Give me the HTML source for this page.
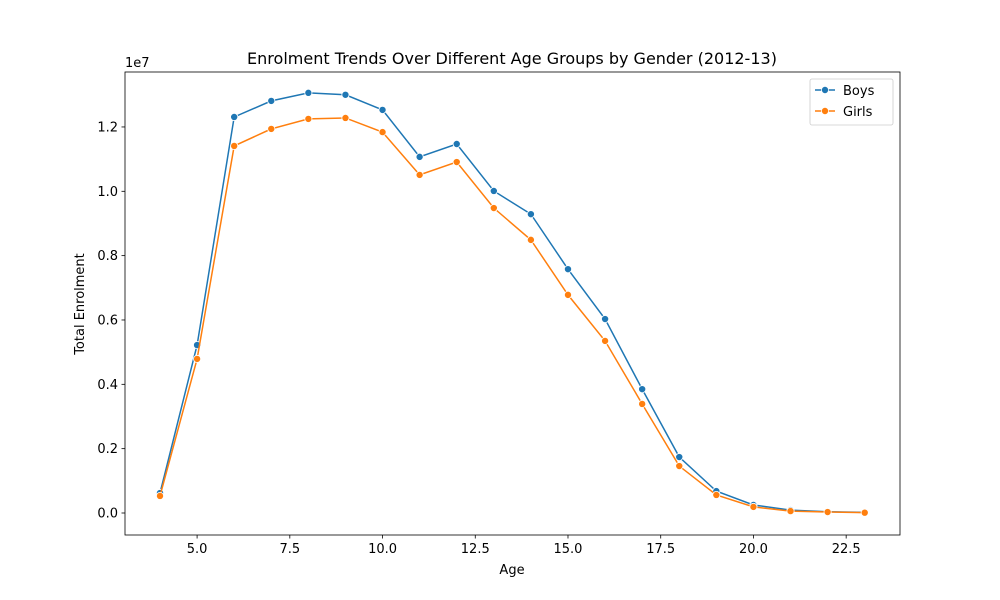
<!DOCTYPE html>
<html><head><meta charset="utf-8"><style>
body{margin:0;background:#fff;}
svg{display:block;font-family:"DejaVu Sans","Liberation Sans",sans-serif;}
</style></head><body>
<svg id="chart" width="1000" height="600"></svg>
<script>
const ages=[4,5,6,7,8,9,10,11,12,13,14,15,16,17,18,19,20,21,22,23];
const boys=[0.062,0.522,1.231,1.281,1.306,1.300,1.253,1.107,1.147,1.001,0.929,0.758,0.603,0.385,0.174,0.068,0.025,0.009,0.004,0.002];
const girls=[0.053,0.479,1.141,1.194,1.225,1.228,1.184,1.051,1.091,0.948,0.849,0.678,0.535,0.339,0.146,0.056,0.019,0.006,0.003,0.001];
const xTicks=[5.0,7.5,10.0,12.5,15.0,17.5,20.0,22.5];
const yTicks=[0.0,0.2,0.4,0.6,0.8,1.0,1.2];
const L=125,R=900,T=72,B=535;
const x=v=>160+(v-4)*37.09;
const y=v=>513-v*321.7;
const NS="http://www.w3.org/2000/svg";
const svg=document.getElementById('chart');
function mk(t,a,p){const e=document.createElementNS(NS,t);for(const k in a)e.setAttribute(k,a[k]);(p||svg).appendChild(e);return e;}
let r=mk('rect',{x:L,y:T,width:R-L,height:B-T,fill:'none',stroke:'#000','stroke-width':0.8});


xTicks.forEach(v=>{const g=mk('g',{});


mk('line',{x1:x(v),x2:x(v),y1:B,y2:B+3.5,stroke:'#000','stroke-width':0.8},g);
const t=mk('text',{x:x(v),y:B+18,'text-anchor':'middle','font-size':13,fill:'#000'},g);t.textContent=v.toFixed(1);});
yTicks.forEach(v=>{const g=mk('g',{});


mk('line',{x1:L-3.5,x2:L,y1:y(v),y2:y(v),stroke:'#000','stroke-width':0.8},g);
const t=mk('text',{x:L-7,y:y(v)+4.5,'text-anchor':'end','font-size':13,fill:'#000'},g);t.textContent=v.toFixed(1);});
let t;
t=mk('text',{x:L,y:67,'font-size':13});t.textContent='1e7';

t=mk('text',{x:512,y:64,'text-anchor':'middle','font-size':16});t.textContent='Enrolment Trends Over Different Age Groups by Gender (2012-13)';

t=mk('text',{x:512,y:574,'text-anchor':'middle','font-size':13});t.textContent='Age';

t=mk('text',{x:84,y:304,'text-anchor':'middle','font-size':13,transform:'rotate(-90 84 304)'});t.textContent='Total Enrolment';

function series(vals,color,name){const g=mk('g',{});


mk('polyline',{points:vals.map((v,i)=>x(ages[i])+','+y(v)).join(' '),fill:'none',stroke:color,'stroke-width':1.5},g);
vals.forEach((v,i)=>{const c=mk('circle',{cx:x(ages[i]),cy:y(v),r:3.6,fill:color,stroke:'#fff','stroke-width':0.8},g);

});}
series(boys,'#1f77b4','boys');
series(girls,'#ff7f0e','girls');
const lg=mk('g',{});


mk('rect',{x:810,y:79,width:83,height:46,rx:2,fill:'#fff',stroke:'#ccc','stroke-width':0.8},lg);
[['Boys','#1f77b4',90],['Girls','#ff7f0e',111]].forEach(([n,c,yy])=>{
const e=mk('g',{},lg);


mk('line',{x1:815,x2:835,y1:yy,y2:yy,stroke:c,'stroke-width':1.5},e);
mk('circle',{cx:825,cy:yy,r:3.6,fill:c,stroke:'#fff','stroke-width':0.8},e);
const tt=mk('text',{x:843,y:yy+5,'font-size':13},e);tt.textContent=n;});
</script>
</body></html>
